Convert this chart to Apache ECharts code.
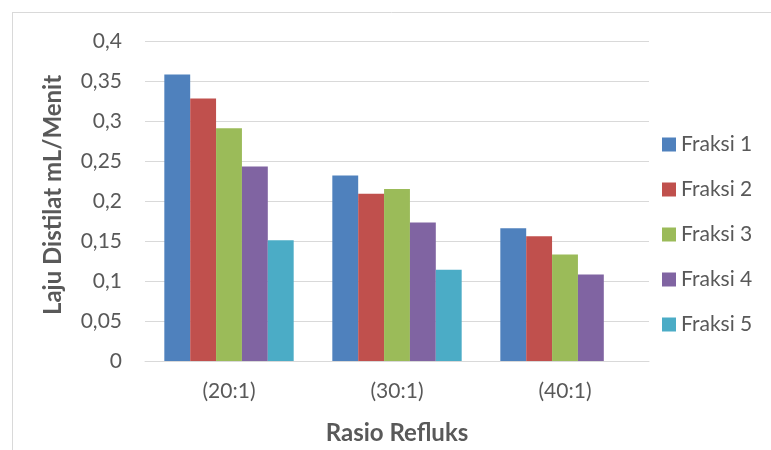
<!DOCTYPE html>
<html>
<head>
<meta charset="utf-8">
<script src="https://cdn.jsdelivr.net/npm/echarts@6/dist/echarts.min.js"></script>
<style>
  html, body { margin: 0; padding: 0; background: #fff; }
  #chart { width: 771px; height: 450px; }
</style>
</head>
<body>
<div id="chart"></div>
<script>
// Reflux ratio categories
const categories = ['(20:1)', '(30:1)', '(40:1)'];

// Distillate rate (mL/min) per fraction
const fraksi1 = [0.358, 0.232, 0.166];
const fraksi2 = [0.328, 0.209, 0.156];
const fraksi3 = [0.291, 0.215, 0.133];
const fraksi4 = [0.243, 0.173, 0.108];
const fraksi5 = [0.151, 0.114, null];

const seriesNames = ['Fraksi 1', 'Fraksi 2', 'Fraksi 3', 'Fraksi 4', 'Fraksi 5'];
const seriesData = [fraksi1, fraksi2, fraksi3, fraksi4, fraksi5];
const colors = ['#4F81BD', '#C0504D', '#9BBB59', '#8064A2', '#4BACC6'];

const yTitle = 'Laju Distilat mL/Menit';
const xTitle = 'Rasio Refluks';

const FONT = 'Lato, "Open Sans", sans-serif';
const TEXT = '#595959';

const chart = echarts.init(document.getElementById('chart'));
chart.setOption({
  animation: false,
  color: colors,
  textStyle: { fontFamily: FONT },
  grid: { left: 145, right: 122, top: 41, bottom: 89, containLabel: false, outerBoundsMode: 'none' },
  legend: {
    orient: 'vertical',
    left: 657,
    top: 129,
    itemWidth: 14,
    itemHeight: 14,
    itemGap: 24,
    icon: 'rect',
    textStyle: { fontFamily: FONT, fontSize: 21, color: TEXT },
    data: seriesNames
  },
  xAxis: {
    type: 'category',
    data: categories,
    axisLine: { lineStyle: { color: '#D9D9D9', width: 1 } },
    axisTick: { show: false },
    axisLabel: { fontFamily: FONT, fontSize: 21, color: TEXT, margin: 20 },
    name: xTitle,
    nameLocation: 'middle',
    nameGap: 60,
    nameMoveOverlap: false,
    nameTextStyle: { fontFamily: FONT, fontSize: 24, fontWeight: 'bold', color: TEXT }
  },
  yAxis: {
    type: 'value',
    min: 0,
    max: 0.4,
    interval: 0.05,
    axisLine: { show: false },
    axisTick: { show: false },
    splitLine: { lineStyle: { color: '#D9D9D9', width: 1 } },
    axisLabel: {
      fontFamily: FONT, fontSize: 21, color: TEXT, margin: 23,
      formatter: v => String(Math.round(v * 100) / 100).replace('.', ',')
    }
  },
  graphic: [
    // chart frame (top and left edges)
    { type: 'line', shape: { x1: 12, y1: 12.5, x2: 771, y2: 12.5 }, style: { stroke: '#D9D9D9', lineWidth: 1 } },
    { type: 'line', shape: { x1: 12.5, y1: 12, x2: 12.5, y2: 450 }, style: { stroke: '#D9D9D9', lineWidth: 1 } },
    // vertical axis title
    {
      type: 'text',
      x: 53, y: 195,
      rotation: Math.PI / 2,
      style: {
        text: yTitle,
        font: 'bold 24px ' + FONT,
        fill: TEXT,
        textAlign: 'center', textVerticalAlign: 'middle',
        align: 'center', verticalAlign: 'middle'
      }
    }
  ],
  series: seriesNames.map((name, i) => ({
    name,
    type: 'bar',
    data: seriesData[i],
    barGap: '0%',
    barCategoryGap: '23%'
  }))
});
</script>
</body>
</html>
